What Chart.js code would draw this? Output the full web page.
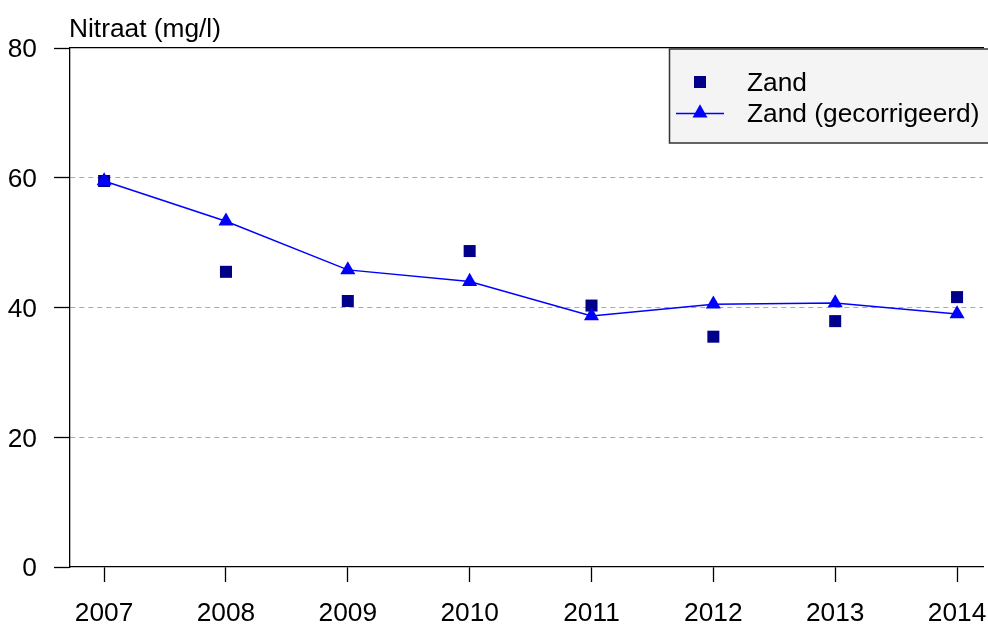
<!DOCTYPE html>
<html>
<head>
<meta charset="utf-8">
<script src="https://cdn.jsdelivr.net/npm/chart.js@4.4.1/dist/chart.umd.min.js"></script>
<style>
  html, body { margin: 0; padding: 0; background: #fff; }
</style>
</head>
<body>
<canvas id="chart" width="988" height="626"></canvas>
<script>
// Data
const years = [2007, 2008, 2009, 2010, 2011, 2012, 2013, 2014];
const zand = [59.5, 45.5, 41.0, 48.7, 40.3, 35.5, 37.9, 41.6];
const zandCorrected = [59.5, 53.3, 45.8, 44.0, 38.7, 40.5, 40.7, 39.0];
const yTicks = [0, 20, 40, 60, 80];

const FONT = '"Liberation Sans", Arial, sans-serif';
const FONT_SIZE = 26.3;

// Title + legend box drawn on top of the chart
const overlay = {
  id: 'overlay',
  afterDraw(chart) {
    const ctx = chart.ctx;
    ctx.save();
    // legend box
    ctx.fillStyle = '#f4f4f4';
    ctx.fillRect(669, 49, 340, 94);
    ctx.strokeStyle = '#333';
    ctx.lineWidth = 1.5;
    ctx.strokeRect(669.5, 49, 340, 94);
    // square marker
    ctx.fillStyle = '#00008b';
    ctx.fillRect(694, 76, 12, 12);
    // line + triangle marker
    ctx.strokeStyle = '#0000ff';
    ctx.lineWidth = 1.5;
    ctx.beginPath();
    ctx.moveTo(676, 113.5);
    ctx.lineTo(724, 113.5);
    ctx.stroke();
    ctx.fillStyle = '#0000ff';
    ctx.beginPath();
    ctx.moveTo(700, 104.3);
    ctx.lineTo(707.5, 117.4);
    ctx.lineTo(692.5, 117.4);
    ctx.closePath();
    ctx.fill();
    // texts
    ctx.fillStyle = '#000';
    ctx.font = FONT_SIZE + 'px ' + FONT;
    ctx.textBaseline = 'alphabetic';
    ctx.textAlign = 'left';
    ctx.fillText('Zand', 747, 90.5);
    ctx.fillText('Zand (gecorrigeerd)', 747, 121.5);
    ctx.fillText('Nitraat (mg/l)', 69, 37);
    ctx.restore();
  }
};

const ctx = document.getElementById('chart').getContext('2d');

const chart = new Chart(ctx, {
  type: 'line',
  data: {
    datasets: [
      {
        label: 'Zand (gecorrigeerd)',
        data: years.map((y, i) => ({ x: y, y: zandCorrected[i] })),
        borderColor: '#0000ff',
        backgroundColor: '#0000ff',
        borderWidth: 1.5,
        pointStyle: 'triangle',
        pointRadius: 8.7,
        pointBorderWidth: 0,
        tension: 0,
        order: 1
      },
      {
        label: 'Zand',
        data: years.map((y, i) => ({ x: y, y: zand[i] })),
        showLine: false,
        backgroundColor: '#00008b',
        borderColor: '#00008b',
        pointStyle: 'rect',
        pointRadius: 8.5,
        pointBorderWidth: 0,
        order: 2
      }
    ]
  },
  options: {
    responsive: false,
    animation: false,
    clip: false,
    layout: { autoPadding: false, padding: { top: 48, right: 5, left: 0, bottom: 0 } },
    plugins: {
      legend: { display: false },
      tooltip: { enabled: false }
    },
    scales: {
      x: {
        type: 'linear',
        min: 2006.72,
        max: 2014.213,
        afterBuildTicks: (scale) => { scale.ticks = years.map(v => ({ value: v })); },
        afterFit: (scale) => {
          scale.height = 59;
          scale.paddingLeft = 0;
          scale.paddingRight = 0;
        },
        border: { color: '#000', width: 1.3 },
        grid: { drawOnChartArea: false, tickLength: 15, tickColor: '#000', tickWidth: 1.3 },
        ticks: {
          color: '#000',
          font: { family: FONT, size: FONT_SIZE },
          padding: 16,
          maxRotation: 0,
          callback: (value) => String(value)
        }
      },
      x2: {
        type: 'linear',
        position: 'top',
        min: 2006.72,
        max: 2014.213,
        afterFit: (scale) => {
          scale.height = 0;
          scale.paddingLeft = 0;
          scale.paddingRight = 0;
        },
        border: { color: '#000', width: 1.3 },
        grid: { drawOnChartArea: false, drawTicks: false },
        ticks: { display: false }
      },
      y: {
        min: 0,
        max: 80,
        afterBuildTicks: (scale) => { scale.ticks = yTicks.map(v => ({ value: v })); },
        afterFit: (scale) => { scale.width = 70; },
        border: { color: '#000', width: 1.3, dash: [5, 4] },
        grid: {
          color: (c) => (c.tick && (c.tick.value === 0 || c.tick.value === 80)) ? 'rgba(0,0,0,0)' : '#aaaaaa',
          lineWidth: 1,
          tickLength: 16,
          tickColor: '#000',
          tickWidth: 1.3
        },
        ticks: {
          color: '#000',
          font: { family: FONT, size: FONT_SIZE },
          padding: 17,
          labelOffset: 2,
          callback: (value) => String(value)
        }
      }
    }
  },
  plugins: [overlay]
});
</script>
</body>
</html>
